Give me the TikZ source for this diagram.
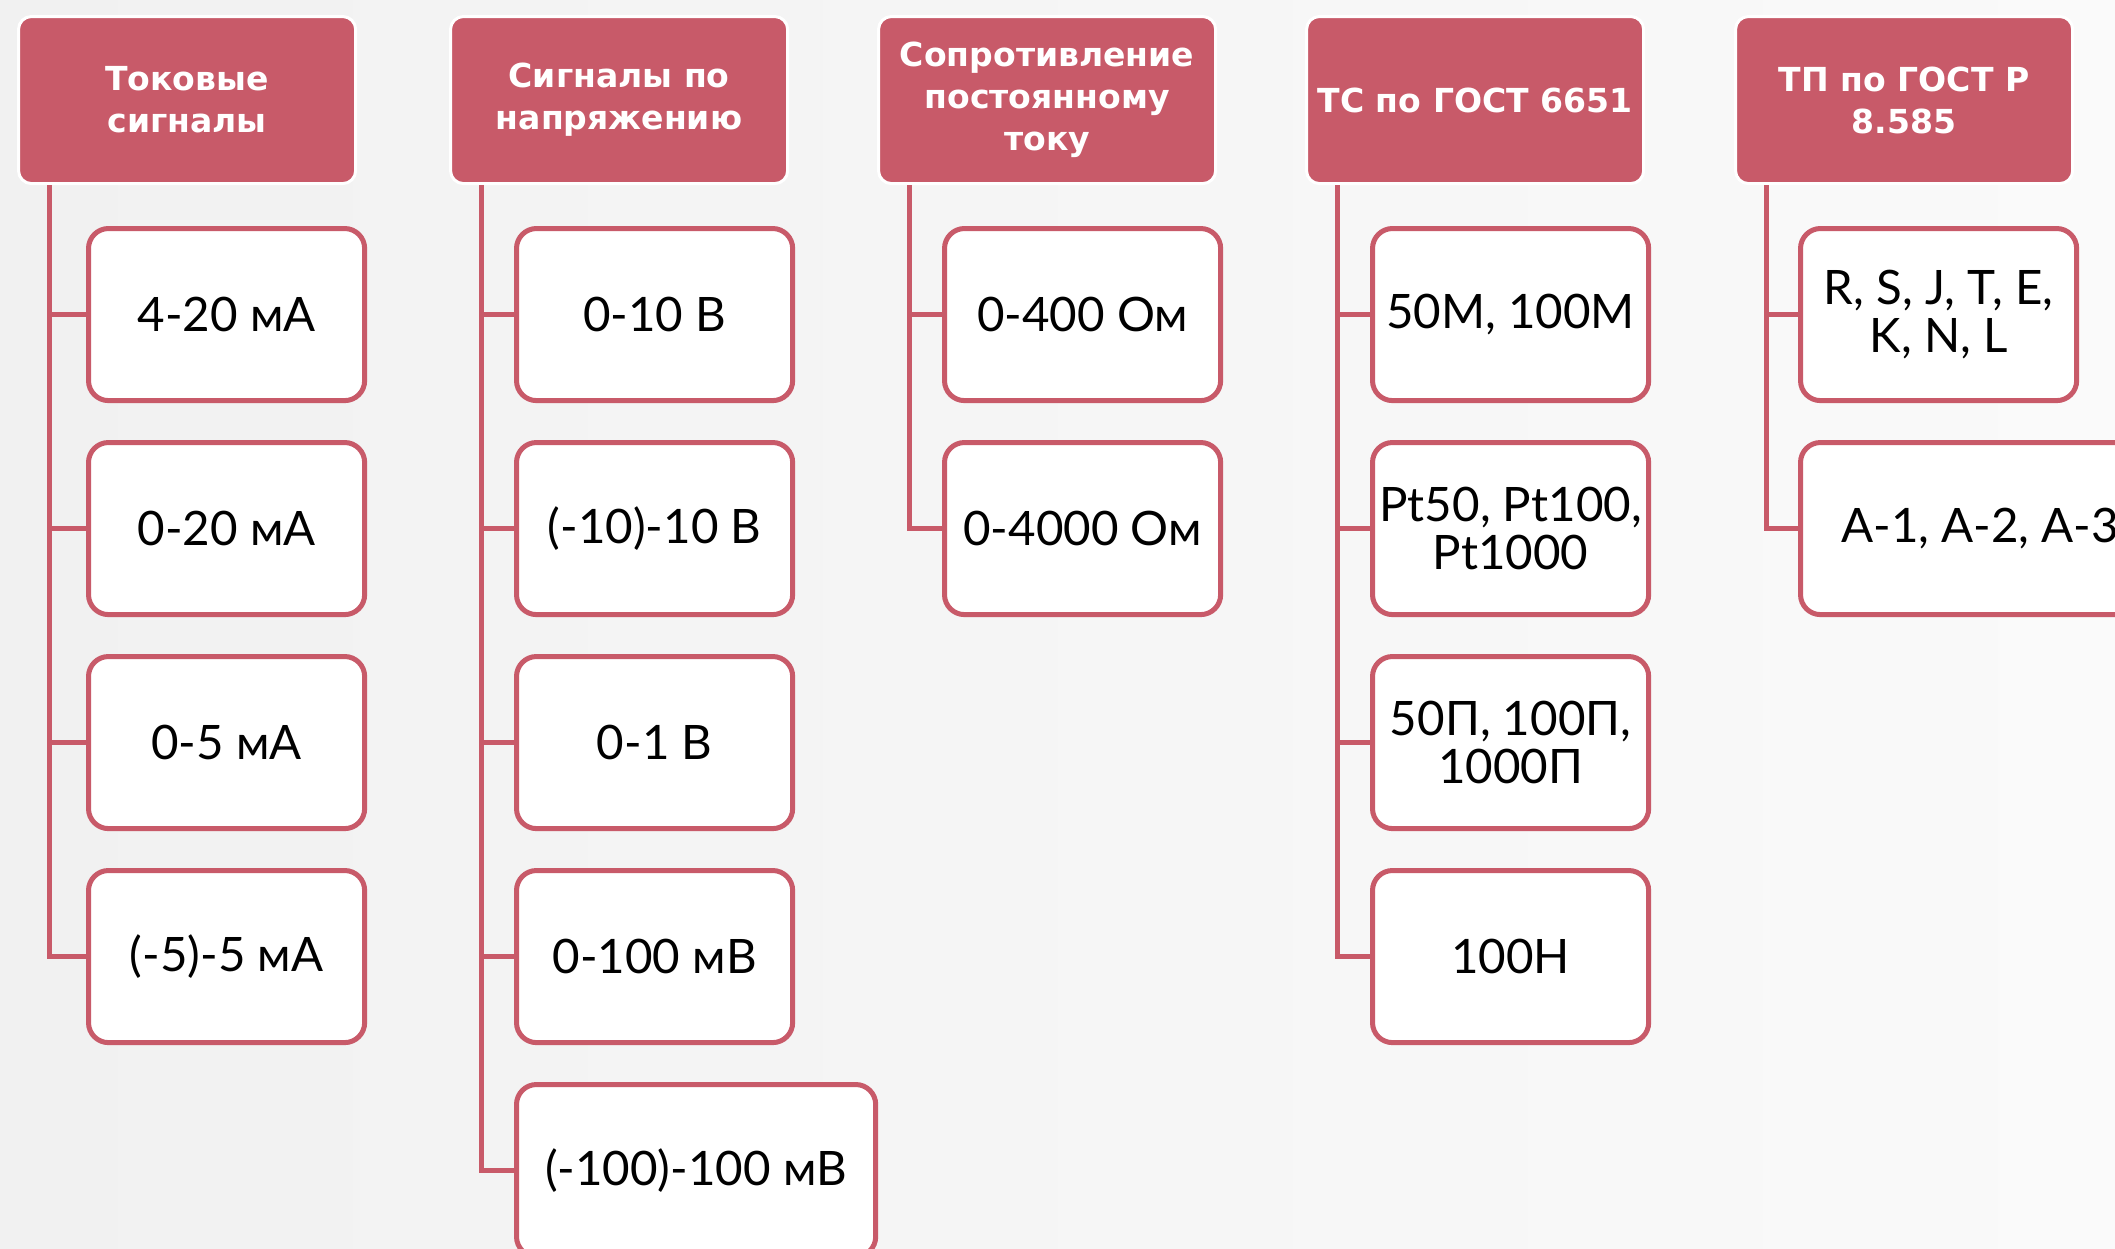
\documentclass[tikz,border=0pt]{standalone}
\usepackage{fontspec}
\setmainfont{Lato}
\newfontfamily\headfont{DejaVu Sans}
\definecolor{rose}{RGB}{200,90,105}
\definecolor{bgleft}{RGB}{241,241,241}
\definecolor{bgright}{RGB}{250,250,250}
\begin{document}
\begin{tikzpicture}[x=0.01cm,y=-0.01cm,
  hdr/.style={anchor=north west,fill=rose,draw=white,line width=0.03cm,rounded corners=0.13cm,
    minimum width=3.37cm,minimum height=1.67cm,inner sep=0pt,align=center,text=white,
    font=\headfont\bfseries\fontsize{9.4}{11.9}\selectfont},
  item/.style={anchor=north west,fill=white,draw=rose,line width=0.05cm,rounded corners=0.2cm,
    minimum width=2.76cm,minimum height=1.72cm,inner sep=0pt,align=center,
    font=\fontsize{13.5}{13.6}\selectfont},
  wide/.style={item,minimum width=3.59cm},
  trunk/.style={draw=rose,line width=0.05cm}]
\useasboundingbox (0,0) rectangle (2115,1248);
\clip (0,0) rectangle (2115,1248);
\shade[left color=bgleft,right color=bgright] (0,0) rectangle (2115,1248);
\node[hdr] (h1) at (17,15) {Токовые\\сигналы};
\node[hdr] (h2) at (449,15) {Сигналы по\\напряжению};
\node[hdr] (h3) at (877,15) {Сопротивление\\постоянному\\току};
\node[hdr] (h4) at (1305,15) {ТС по ГОСТ 6651};
\node[hdr] (h5) at (1734,15) {ТП по ГОСТ Р\\8.585};
\node[item] (c11) at (86,226) {4-20 мА};
\node[item] (c12) at (86,440) {0-20 мА};
\node[item] (c13) at (86,654) {0-5 мА};
\node[item] (c14) at (86,868) {(-5)-5 мА};
\node[item] (c21) at (514,226) {0-10 В};
\node[item] (c22) at (514,440) {(-10)-10 В};
\node[item] (c23) at (514,654) {0-1 В};
\node[item] (c24) at (514,868) {0-100 мВ};
\node[wide] (c25) at (514,1082) {(-100)-100 мВ};
\node[item] (c31) at (942,226) {0-400 Ом};
\node[item] (c32) at (942,440) {0-4000 Ом};
\node[item] (c41) at (1370,226) {50М, 100М};
\node[item] (c42) at (1370,440) {Pt50, Pt100,\\Pt1000};
\node[item] (c43) at (1370,654) {50П, 100П,\\1000П};
\node[item] (c44) at (1370,868) {100Н};
\node[item] (c51) at (1798,226) {R, S, J, T, E,\\K, N, L};
\node[wide] (c52) at (1798,440) {A-1, A-2, A-3};
\coordinate (t1) at ([xshift=0.32cm]h1.south west);
\coordinate (t2) at ([xshift=0.32cm]h2.south west);
\coordinate (t3) at ([xshift=0.32cm]h3.south west);
\coordinate (t4) at ([xshift=0.32cm]h4.south west);
\coordinate (t5) at ([xshift=0.32cm]h5.south west);
\draw[trunk] (t1) |- (c11.west) (t1) |- (c12.west) (t1) |- (c13.west) (t1) |- (c14.west);
\draw[trunk] (t2) |- (c21.west) (t2) |- (c22.west) (t2) |- (c23.west) (t2) |- (c24.west)
  (t2) |- (c25.west);
\draw[trunk] (t3) |- (c31.west) (t3) |- (c32.west);
\draw[trunk] (t4) |- (c41.west) (t4) |- (c42.west) (t4) |- (c43.west) (t4) |- (c44.west);
\draw[trunk] (t5) |- (c51.west) (t5) |- (c52.west);
\end{tikzpicture}
\end{document}
